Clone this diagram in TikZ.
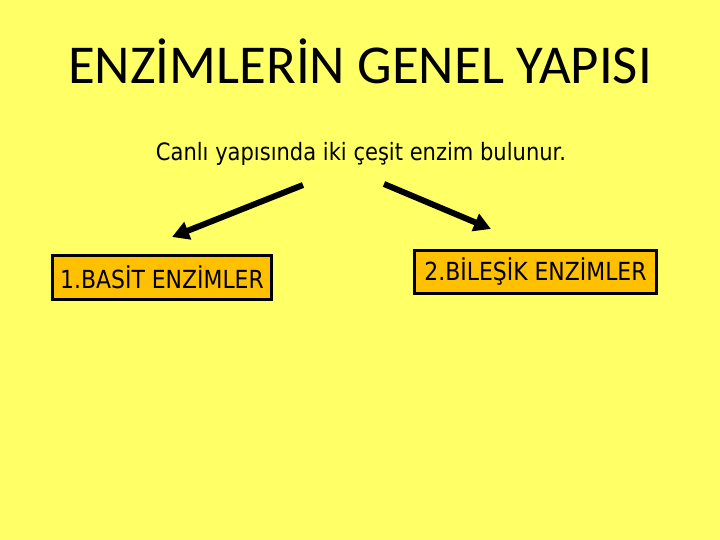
\documentclass[tikz,border=0pt]{standalone}
\usepackage{fontspec}
\setmainfont{DejaVu Sans}[FakeStretch=0.88]
\newfontfamily\titlefont{Carlito}
\usetikzlibrary{arrows.meta}
\definecolor{bgyellow}{RGB}{255,255,102}
\definecolor{boxgold}{RGB}{255,192,0}
\tikzset{
  enzbox/.style={draw=black, line width=3bp, fill=boxgold, inner sep=0pt, font=\fontsize{25}{28}\selectfont, anchor=center},
  bigarrow/.style={line width=6bp, -{Triangle[length=17bp,width=18bp]}}
}
\begin{document}
\begin{tikzpicture}[x=1bp,y=-1bp]
\fill[bgyellow] (0,0) rectangle (720,540);
\useasboundingbox (0,0) rectangle (720,540);
\node[font=\titlefont\fontsize{55}{60}\selectfont, anchor=base] (title) at (360,84) {ENZİMLERİN GENEL YAPISI};
\node[font=\fontsize{24}{27}\selectfont, anchor=base] (sub) at (361,161) {Canlı yapısında iki çeşit enzim bulunur.};
\node[enzbox, minimum width=218bp, minimum height=43bp] (b1) at (162,277.5) {1.BASİT ENZİMLER};
\node[enzbox, minimum width=242bp, minimum height=42bp] (b2) at (535.5,272) {2.BİLEŞİK ENZİMLER};
\coordinate (s1) at (303,185);
\coordinate (t1) at (172,237);
\coordinate (s2) at (384,184);
\coordinate (t2) at (491,229);
\draw[bigarrow] (s1) -- (t1);
\draw[bigarrow] (s2) -- (t2);
\end{tikzpicture}
\end{document}
